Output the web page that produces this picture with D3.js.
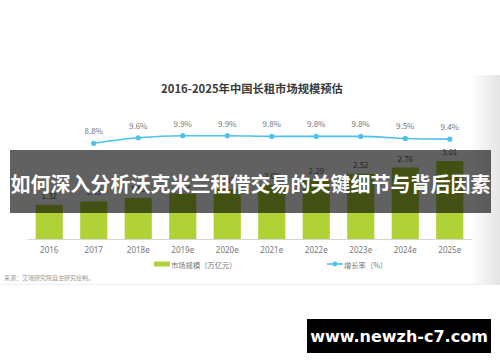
<!DOCTYPE html>
<html><head><meta charset="utf-8">
<script src="https://cdn.jsdelivr.net/npm/d3@7"></script>
<style>
html,body{margin:0;padding:0;background:#fff;}
svg{display:block;font-family:"Noto Sans CJK SC","Noto Sans",sans-serif;}
</style></head>
<body><svg id="c" width="500" height="362"></svg>
<script>
const categories = ["2016","2017","2018e","2019e","2020e","2021e","2022e","2023e","2024e","2025e"];
const marketSize = [1.32,1.45,1.59,1.75,1.92,2.09,2.29,2.52,2.76,3.01];
const growthCats = ["2017","2018e","2019e","2020e","2021e","2022e","2023e","2024e","2025e"];
const growthRate = [8.8,9.6,9.9,9.9,9.8,9.8,9.8,9.5,9.4];
const title = "2016-2025年中国长租市场规模预估";
const legendBar = "市场规模（万亿元）";
const legendLine = "增长率（%）";
const source = "来源：艾瑞研究院自主研究绘制。";
const banner = "如何深入分析沃克米兰租借交易的关键细节与背后因素";
const watermark = "www.newzh-c7.com";

const svg = d3.select("#c");
const green = "#b0d236", blue = "#4cc2ec";

// right edge shade
const defs = svg.append("defs");
const g1 = defs.append("linearGradient").attr("id","edge").attr("x1","0").attr("x2","1");
g1.append("stop").attr("offset","0").attr("stop-color","#fff");
g1.append("stop").attr("offset","1").attr("stop-color","#e4e4e4");
svg.append("rect").attr("x",470).attr("y",75).attr("width",30).attr("height",210).attr("fill","url(#edge)");
svg.append("line").attr("x1",0).attr("x2",490).attr("y1",284.5).attr("y2",284.5).attr("stroke","#f0f0f0");

svg.append("text").attr("x",252).attr("y",88).attr("text-anchor","middle").attr("dominant-baseline","central")
  .attr("font-size",11.3).attr("font-weight","bold").attr("fill","#3a3a3a").text(title);

const x = d3.scaleBand().domain(categories).range([27,472]).paddingInner(0.39).paddingOuter(0.195);
const y = d3.scaleLinear().domain([0,4]).range([239,135.4]);
const y2 = d3.scaleLinear().domain([0,10]).range([204,135]);

svg.append("g").selectAll("rect").data(categories).join("rect")
  .attr("x",d=>x(d)).attr("width",x.bandwidth())
  .attr("y",(d,i)=>y(marketSize[i])).attr("height",(d,i)=>y(0)-y(marketSize[i]))
  .attr("fill",green);
svg.append("g").selectAll("text").data(categories).join("text")
  .attr("x",d=>x(d)+x.bandwidth()/2).attr("y",(d,i)=>y(marketSize[i])-6)
  .attr("text-anchor","middle").attr("font-size",8).attr("fill","#666")
  .text((d,i)=>marketSize[i].toFixed(2));

const ax = svg.append("g").attr("transform","translate(0,239)")
  .call(d3.axisBottom(x).tickSize(0).tickPadding(8));
ax.select(".domain").attr("stroke","#d4d4d4");
ax.selectAll("text").attr("font-size",8).attr("fill","#777").attr("font-family","'Noto Sans','Open Sans',sans-serif");

const pts = growthCats.map((c,i)=>[x(c)+x.bandwidth()/2, y2(growthRate[i])]);
svg.append("path").attr("d",d3.line().curve(d3.curveMonotoneX)(pts))
  .attr("fill","none").attr("stroke",blue).attr("stroke-width",1.6);
svg.append("g").selectAll("circle").data(pts).join("circle")
  .attr("cx",d=>d[0]).attr("cy",d=>d[1]).attr("r",2.6).attr("fill",blue);
svg.append("g").selectAll("text").data(pts).join("text")
  .attr("x",d=>d[0]).attr("y",(d)=>d[1]-9).attr("text-anchor","middle")
  .attr("font-size",8).attr("fill","#777").text((d,i)=>growthRate[i].toFixed(1)+"%");

// legend
svg.append("rect").attr("x",154).attr("y",261.5).attr("width",16).attr("height",5).attr("fill",green);
svg.append("text").attr("x",171).attr("y",264.5).attr("dominant-baseline","central").attr("font-size",7.3).attr("fill","#777").text(legendBar);
svg.append("line").attr("x1",327).attr("x2",343).attr("y1",264).attr("y2",264).attr("stroke",blue).attr("stroke-width",1.6);
svg.append("circle").attr("cx",335).attr("cy",264).attr("r",2.4).attr("fill",blue);
svg.append("text").attr("x",344).attr("y",264.5).attr("dominant-baseline","central").attr("font-size",7.3).attr("fill","#777").text(legendLine);
svg.append("text").attr("x",4).attr("y",277).attr("dominant-baseline","central").attr("font-size",6).attr("fill","#999").text(source);

// banner overlay
svg.append("rect").attr("x",10).attr("y",150).attr("width",481).attr("height",63).attr("fill","rgba(0,0,0,0.62)");
svg.append("text").attr("x",250.5).attr("y",183).attr("text-anchor","middle").attr("dominant-baseline","central")
  .attr("font-size",20).attr("font-weight","bold").attr("fill","#fff").text(banner);

// watermark
svg.append("rect").attr("x",307).attr("y",319).attr("width",184).attr("height",34).attr("fill","#000");
svg.append("text").attr("x",399).attr("y",336).attr("text-anchor","middle").attr("dominant-baseline","central")
  .attr("font-size",16).attr("font-weight","bold").attr("fill","#fff").attr("font-family","'DejaVu Sans','Noto Sans',sans-serif").text(watermark);
</script></body></html>
